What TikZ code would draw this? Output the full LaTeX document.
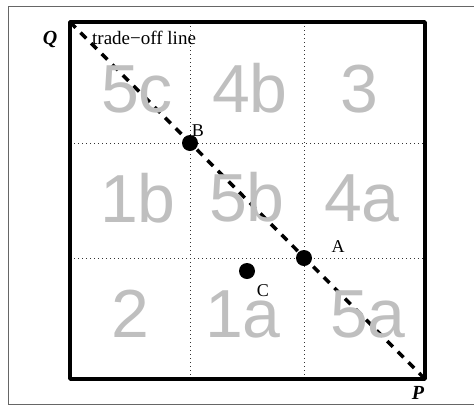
\documentclass[tikz,border=0pt]{standalone}
\usepackage{fontspec}
\setmainfont{Liberation Serif}
\newfontfamily\numfont{Liberation Sans}
\begin{document}
\begin{tikzpicture}[x=1pt,y=-1pt,
  frameline/.style={line width=1pt, black!60},
  gridline/.style={line width=0.9pt, dash pattern=on 1pt off 3pt, black!80},
  boxline/.style={line width=3.5pt, line join=round},
  tradeoff/.style={line width=3.5pt, dash pattern=on 8pt off 7pt},
  region/.style={font=\numfont\fontsize{68}{68}\selectfont, text=black!25, inner sep=0pt, anchor=base},
  ptdot/.style={circle, fill=black, minimum size=16pt, inner sep=0pt},
  lbl/.style={font=\fontsize{18}{18}\selectfont, inner sep=0pt},
  axislbl/.style={font=\fontsize{20}{20}\selectfont\bfseries\itshape, inner sep=0pt}]
\useasboundingbox (0,0) rectangle (474,405);
% outer frame
\draw[frameline] (474,6) -- (8,6) -- (8,404) -- (474,404);
% box corners
\coordinate (tl) at (70,22);
\coordinate (tr) at (425,22);
\coordinate (bl) at (70,379);
\coordinate (br) at (425,379);
% grid
\coordinate (h1l) at (70,143); \coordinate (h1r) at (425,143);
\coordinate (h2l) at (70,258); \coordinate (h2r) at (425,258);
\coordinate (v1t) at (190,22); \coordinate (v1b) at (190,379);
\coordinate (v2t) at (304,22); \coordinate (v2b) at (304,379);
\draw[gridline] (h1l) -- (h1r);
\draw[gridline] (h2l) -- (h2r);
\draw[gridline] (v1t) -- (v1b);
\draw[gridline] (v2t) -- (v2b);
% trade-off line
\draw[tradeoff] (tl) -- (br);
% region numbers
\node[region] (r5c) at (137,112) {5c};
\node[region] (r4b) at (250,112) {4b};
\node[region] (r3)  at (359,112) {3};
\node[region] (r1b) at (138,222) {1b};
\node[region] (r5b) at (247,221) {5b};
\node[region] (r4a) at (362,221) {4a};
\node[region] (r2)  at (130,337) {2};
\node[region] (r1a) at (243,337) {1a};
\node[region] (r5a) at (368,337) {5a};
% points
\node[ptdot] (B) at (190,143) {};
\node[ptdot] (A) at (304,258) {};
\node[ptdot] (C) at (247,271) {};
\node[lbl] (Blbl) at (198,131) {B};
\node[lbl] (Albl) at (338,247) {A};
\node[lbl] (Clbl) at (263,291) {C};
\node[lbl, anchor=base west, font=\fontsize{19}{19}\selectfont] (tol) at (92,44) {trade−off line};
% box
\draw[boxline] (tl) -- (bl) -- (br) -- (tr) -- cycle;
% axis labels
\node[axislbl] (Q) at (50,39) {Q};
\node[axislbl] (P) at (418,393) {P};
\end{tikzpicture}
\end{document}
